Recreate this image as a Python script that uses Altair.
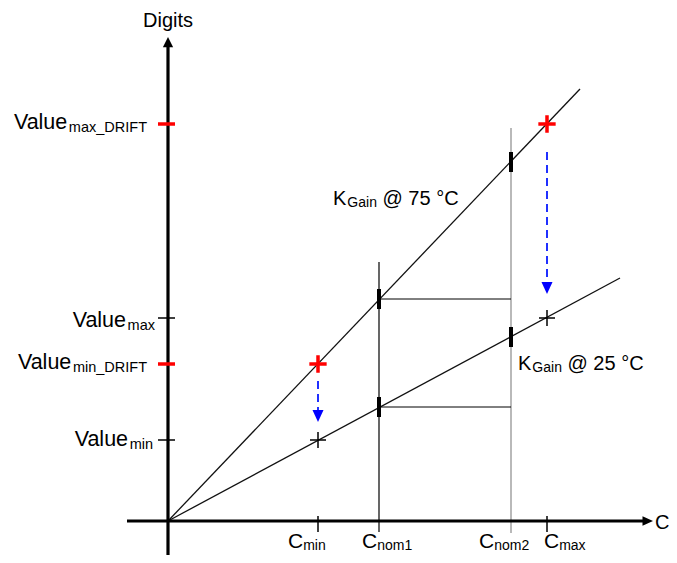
import altair as alt
import pandas as pd

# ---------------- values ----------------
# horizontal quantity C (units), vertical quantity Digits
c_labels = ["min", "nom1", "nom2", "max"]
c_values = [150, 211, 343, 379]

value_labels = ["max_DRIFT", "max", "min_DRIFT", "min"]
value_digits = [397, 203, 157, 81]
value_is_drift = [True, False, True, False]

# gain lines through the origin (end points)
line_names = ["K75", "K25"]
line_end_c = [412, 452]
line_end_d = [432, 243]

# digits on the gain lines at Cnom1 / Cnom2
nom_pt_c = [211, 211, 343, 343]
nom_pt_d = [222, 114, 359, 184]

# top ends of the Cnom guide lines
nom_guide_c = [211, 343]
nom_guide_top = [259, 393]

# drift arrows at Cmin and Cmax
arrow_c = [150, 379]
arrow_start = [140, 369]
arrow_tip = [99, 227]

# axes extents
x_axis_from, x_axis_tip = -41, 485
y_axis_from, y_axis_tip = -40, 484

# ---------------- layout / style ----------------
FONT = "Liberation Sans"
XS = alt.Scale(domain=[-160, 501], nice=False, zero=False)
YS = alt.Scale(domain=[-34, 513], nice=False, zero=False)

# Liberation Sans advance widths (per 1000 em)
WID = {"V": 667, "a": 556, "l": 222, "u": 556, "e": 556, "m": 833, "x": 500,
       "_": 556, "D": 722, "R": 722, "I": 278, "F": 611, "T": 611, "i": 222,
       "n": 556, "o": 556, "1": 556, "2": 556, "C": 722, "K": 667, "G": 778,
       "@": 1015, " ": 278, "7": 556, "5": 556, "°": 400, "g": 556, "t": 278,
       "s": 500}


def tw(s, size):
    return sum(WID.get(ch, 556) for ch in s) * size / 1000.0


def X(f):
    return alt.X(f, type="quantitative", scale=XS, axis=None)


def Y(f):
    return alt.Y(f, type="quantitative", scale=YS, axis=None)


layers = []

# gain lines
ln = pd.DataFrame({
    "c": [0, line_end_c[0], 0, line_end_c[1]],
    "d": [0, line_end_d[0], 0, line_end_d[1]],
    "k": [line_names[0]] * 2 + [line_names[1]] * 2,
})
layers.append(alt.Chart(ln).mark_line(color="#111111", strokeWidth=1.3).encode(
    x=X("c"), y=Y("d"), detail="k:N"))

# Cnom guide lines
g1 = pd.DataFrame({"c": [nom_guide_c[0]], "top": [nom_guide_top[0]], "bot": [0]})
g2 = pd.DataFrame({"c": [nom_guide_c[1]], "top": [nom_guide_top[1]], "bot": [0]})
layers.append(alt.Chart(g1).mark_rule(color="black", strokeWidth=1.2, y2Offset=11).encode(
    x=X("c"), y=Y("top"), y2="bot:Q"))
layers.append(alt.Chart(g2).mark_rule(color="#a8a8a8", strokeWidth=1.6, y2Offset=12).encode(
    x=X("c"), y=Y("top"), y2="bot:Q"))

# horizontal connectors from Cnom1 to Cnom2
con = pd.DataFrame({"c1": [nom_pt_c[0], nom_pt_c[1]], "c2": [nom_pt_c[2], nom_pt_c[3]],
                    "d": [nom_pt_d[0], nom_pt_d[1]]})
layers.append(alt.Chart(con).mark_rule(color="black", strokeWidth=1).encode(
    x=X("c1"), x2="c2:Q", y=Y("d")))

# axes
ax = pd.DataFrame({"a": [x_axis_from], "b": [x_axis_tip - 9], "z": [0]})
ay = pd.DataFrame({"a": [y_axis_from], "b": [y_axis_tip - 8], "z": [0]})
layers.append(alt.Chart(ax).mark_rule(color="black", strokeWidth=3.2).encode(
    x=X("a"), x2="b:Q", y=Y("z")))
layers.append(alt.Chart(ay).mark_rule(color="black", strokeWidth=3.2).encode(
    x=X("z"), y=Y("a"), y2="b:Q"))
tipx = pd.DataFrame({"c": [x_axis_tip], "d": [0]})
tipy = pd.DataFrame({"c": [0], "d": [y_axis_tip]})
layers.append(alt.Chart(tipx).mark_point(shape="M0,0L-1,-0.45L-1,0.45Z", filled=True, size=441,
                                          color="black", opacity=1, strokeWidth=0).encode(x=X("c"), y=Y("d")))
layers.append(alt.Chart(tipy).mark_point(shape="M0,0L-0.5,1L0.5,1Z", filled=True, size=420,
                                          color="black", opacity=1, strokeWidth=0).encode(x=X("c"), y=Y("d")))

# x ticks at Cmin and Cmax
xt = pd.DataFrame({"c": [c_values[0], c_values[3]], "z": [0, 0]})
layers.append(alt.Chart(xt).mark_rule(color="black", strokeWidth=1.5, yOffset=-5, y2Offset=11).encode(
    x=X("c"), y=Y("z"), y2="z:Q"))

# y ticks
yt = pd.DataFrame({"d": value_digits, "drift": value_is_drift, "z": 0})
layers.append(alt.Chart(yt[~yt.drift]).mark_rule(color="black", strokeWidth=1.5, xOffset=-10, x2Offset=7).encode(
    x=X("z"), x2="z:Q", y=Y("d")))
layers.append(alt.Chart(yt[yt.drift]).mark_rule(color="#ff0000", strokeWidth=3.5, xOffset=-10, x2Offset=7).encode(
    x=X("z"), x2="z:Q", y=Y("d")))

# crosses (measured points)
cr = pd.DataFrame({"c": [c_values[3], c_values[3], c_values[0], c_values[0]],
                   "d": value_digits, "drift": value_is_drift})
layers.append(alt.Chart(cr[~cr.drift]).mark_point(shape="M-1,0L1,0M0,-1L0,1", filled=False, size=256,
                                                   color="black", strokeWidth=1.5, opacity=1).encode(
    x=X("c"), y=Y("d")))
layers.append(alt.Chart(cr[cr.drift]).mark_point(shape="M-1,0L1,0M0,-1L0,1", filled=False, size=300,
                                                  color="#ff0000", strokeWidth=3.5, opacity=1).encode(
    x=X("c"), y=Y("d")))

# thick ticks on the gain lines at Cnom1/Cnom2
nt = pd.DataFrame({"c": nom_pt_c, "d": nom_pt_d})
layers.append(alt.Chart(nt).mark_rule(color="black", strokeWidth=4, yOffset=-10, y2Offset=10).encode(
    x=X("c"), y=Y("d"), y2="d:Q"))

# blue dashed drift arrows
ar = pd.DataFrame({"c": arrow_c, "s": arrow_start, "t": arrow_tip})
layers.append(alt.Chart(ar).mark_rule(color="#2030ff", strokeWidth=2, strokeDash=[8, 5], y2Offset=-8).encode(
    x=X("c"), y=Y("s"), y2="t:Q"))
layers.append(alt.Chart(ar).mark_point(shape="M0,0L-0.46,-1L0.46,-1Z", filled=True, size=576,
                                        color="#0000ff", opacity=1, strokeWidth=0).encode(
    x=X("c"), y=Y("t")))

# ---------------- texts ----------------
rows = []


def add(x, y, t, s):
    rows.append({"x": x, "y": y, "t": t, "s": s})


MAIN, SUB = 21.5, 14.5
gaps = [21, 13, 21, 15]
dys = [5, 9, 5, 6]
for name, d, gap, dy in zip(value_labels, value_digits, gaps, dys):
    right = -gap
    sub_left = right - tw(name, SUB)
    main_left = sub_left - tw("Value", MAIN)
    add(main_left, d - dy, "Value", MAIN)
    add(sub_left, d - dy - 2.5, name, SUB)

c_off = [-30, -17, -32, -3]
for name, c, off in zip(c_labels, c_values, c_off):
    left = c + off
    add(left, -27, "C", 21)
    add(left + tw("C", 21), -29, name, 14)

add(-25, 494, "Digits", 20)
add(487, -8, "C", 20)

for (lx, ly, temp) in [(165, 316, "75"), (350, 151, "25")]:
    add(lx, ly, "K", 20)
    sx = lx + tw("K", 20) + 1
    add(sx, ly - 2, "Gain", 14)
    add(sx + tw("Gain", 14) + tw(" ", 20), ly, "@ " + temp + " °C", 20)

tx = pd.DataFrame(rows)
layers.append(alt.Chart(tx).mark_text(align="left", baseline="alphabetic", font=FONT, color="black").encode(
    x=X("x"), y=Y("y"), text="t:N", size=alt.Size("s:Q", scale=None)))

chart = alt.layer(*layers).properties(
    width=661, height=547, padding=0, autosize=alt.AutoSizeParams(type="none"),
    background="white",
).configure_view(stroke=None)

chart.save("out.html", embed_options={"renderer": "svg", "actions": False})
